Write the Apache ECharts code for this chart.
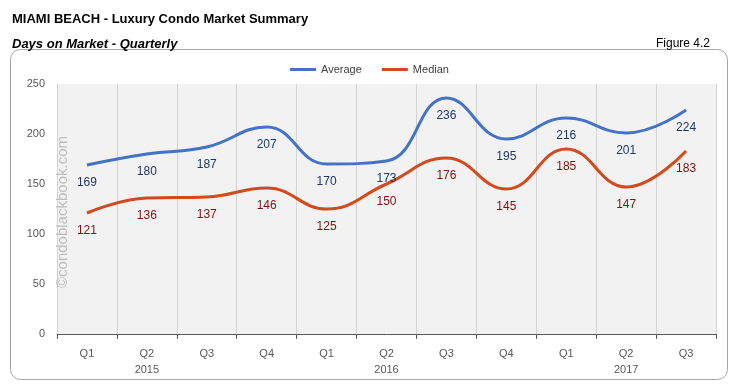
<!DOCTYPE html>
<html><head><meta charset="utf-8">
<script src="https://cdn.jsdelivr.net/npm/echarts@6/dist/echarts.min.js"></script>
<style>html,body{margin:0;padding:0;background:#fff}#c{width:739px;height:387px}</style>
</head><body><div id="c"></div>
<script>
var categories = ['Q1','Q2\n2015','Q3','Q4','Q1','Q2\n2016','Q3','Q4','Q1','Q2\n2017','Q3'];
var averageDays = [169,180,187,207,170,173,236,195,216,201,224];
var medianDays = [121,136,137,146,125,150,176,145,185,147,183];
var yTicks = [0,50,100,150,200,250];

var chart = echarts.init(document.getElementById('c'));
var F = 'Liberation Sans, Arial, sans-serif';
chart.setOption({
  animation:false,
  backgroundColor:'#fff',
  title:[
    {text:'MIAMI BEACH - Luxury Condo Market Summary',left:7,top:8,textStyle:{fontFamily:F,fontSize:13,fontWeight:'bold',color:'#000'}},
    {text:'Days on Market - Quarterly',left:7,top:33,textStyle:{fontFamily:F,fontSize:13,fontWeight:'bold',fontStyle:'italic',color:'#000'}},
    {text:'Figure 4.2',right:24,top:33,textStyle:{fontFamily:F,fontSize:12,fontWeight:'normal',color:'#000'}}
  ],
  graphic:[
    {type:'rect',shape:{x:10.5,y:49.5,width:717,height:330,r:10},style:{fill:'none',stroke:'#a6a6a6',lineWidth:1},z:-1},
    {type:'text',x:63,y:212,rotation:Math.PI/2,style:{text:'©condoblackbook.com',fill:'#bdbdbd',font:'15px '+F,align:'center',verticalAlign:'middle'},z:10}
  ],
  legend:{top:59,left:'center',itemWidth:26,itemHeight:3,icon:'rect',itemGap:20,
    textStyle:{fontFamily:F,fontSize:11,color:'#404040'},
    data:['Average','Median']},
  grid:{left:57,right:23,top:84,bottom:53,show:true,backgroundColor:'#f2f2f2',borderWidth:0},
  xAxis:{type:'category',data:categories,boundaryGap:true,
    axisLine:{lineStyle:{color:'#595959',width:1}},
    axisTick:{show:true,length:5,lineStyle:{color:'#595959'}},
    axisLabel:{fontFamily:F,fontSize:11,color:'#595959',margin:12,lineHeight:16},
    splitLine:{show:true,lineStyle:{color:'#d4d4d4',width:1}}},
  yAxis:{type:'value',min:0,max:250,interval:50,
    axisLine:{show:false},axisTick:{show:false},
    axisLabel:{fontFamily:F,fontSize:11,color:'#595959',margin:12},
    splitLine:{show:false}},
  series:[
    {name:'Average',type:'line',data:averageDays,smooth:0.45,symbol:'circle',symbolSize:0.01,showSymbol:true,
      lineStyle:{color:'#4472c4',width:3},itemStyle:{color:'#4472c4'},
      label:{show:true,position:'bottom',distance:12,fontFamily:F,fontSize:12,color:'#1f3864'}},
    {name:'Median',type:'line',data:medianDays,smooth:0.45,symbol:'circle',symbolSize:0.01,showSymbol:true,
      lineStyle:{color:'#d24a1e',width:3},itemStyle:{color:'#d24a1e'},
      label:{show:true,position:'bottom',distance:12,fontFamily:F,fontSize:12,color:'#7f1010'}}
  ]
});
</script></body></html>
